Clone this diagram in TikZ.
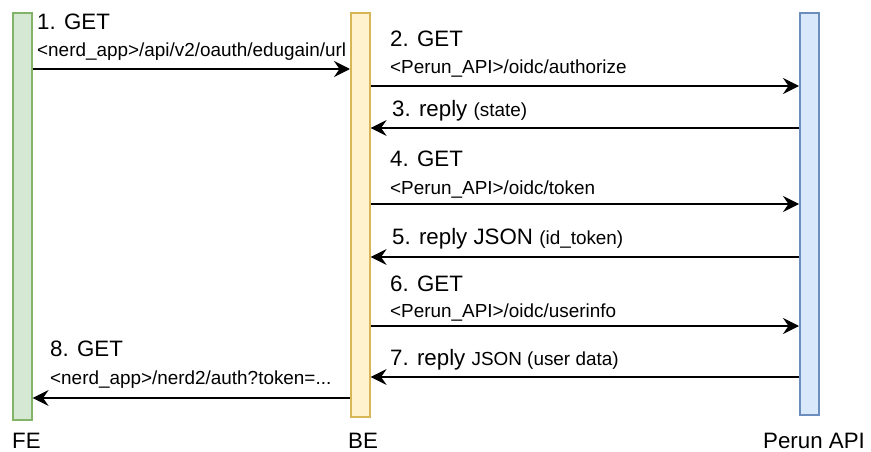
\documentclass[tikz,border=0pt]{standalone}
\usepackage{fontspec}
\setmainfont{Liberation Sans}
\usetikzlibrary{arrows.meta}
\definecolor{feFill}{HTML}{D5E8D4}\definecolor{feLine}{HTML}{82B366}
\definecolor{beFill}{HTML}{FFF2CC}\definecolor{beLine}{HTML}{D6B656}
\definecolor{apiFill}{HTML}{DAE8FC}\definecolor{apiLine}{HTML}{6C8EBF}
\newcommand{\bigtxt}{\fontsize{22.3}{26}\selectfont}
\newcommand{\smalltxt}{\fontsize{18.9}{22}\selectfont}
\begin{document}
\begin{tikzpicture}[x=1pt,y=-1pt,
  lifeline/.style={rectangle, line width=1.6pt, minimum width=19pt, inner sep=0pt, anchor=north west},
  msg/.style={line width=1.9pt, -{Stealth[length=16pt,width=16pt,inset=5.5pt]}},
  lbl/.style={anchor=base west, inner sep=0pt},
  actor/.style={anchor=base west, inner sep=0pt, font=\bigtxt}]
\useasboundingbox (0,0) rectangle (871,452);
% lifelines
\node[lifeline, fill=feFill, draw=feLine, minimum height=407pt] (fe) at (12,12) {};
\node[lifeline, fill=beFill, draw=beLine, minimum height=404pt] (be) at (350,12) {};
\node[lifeline, fill=apiFill, draw=apiLine, minimum height=402pt] (api) at (799,12) {};
% actor names
\node[actor] (feName) at (12,448) {FE};
\node[actor] (beName) at (348,448) {BE};
\node[actor] (apiName) at (763,448) {Perun API};
% 1
\node[lbl, font=\bigtxt] (l1a) at (37,30) {1. GET};
\node[lbl, font=\smalltxt] (l1b) at (37,57) {<nerd\_app>/api/v2/oauth/edugain/url};
\draw[msg] (fe.east |- 0,69) -- (be.west |- 0,69);
% 2
\node[lbl, font=\bigtxt] (l2a) at (390,47) {2. GET};
\node[lbl, font=\smalltxt] (l2b) at (390,74) {<Perun\_API>/oidc/authorize};
\draw[msg] (be.east |- 0,86) -- (api.west |- 0,86);
% 3
\node[lbl] (l3) at (392,117) {\bigtxt 3. reply \smalltxt(state)};
\draw[msg] (api.west |- 0,128) -- (be.east |- 0,128);
% 4
\node[lbl, font=\bigtxt] (l4a) at (390,166) {4. GET};
\node[lbl, font=\smalltxt] (l4b) at (390,194) {<Perun\_API>/oidc/token};
\draw[msg] (be.east |- 0,204) -- (api.west |- 0,204);
% 5
\node[lbl] (l5) at (392,244) {\bigtxt 5. reply JSON \smalltxt(id\_token)};
\draw[msg] (api.west |- 0,257) -- (be.east |- 0,257);
% 6
\node[lbl, font=\bigtxt] (l6a) at (390,291) {6. GET};
\node[lbl, font=\smalltxt] (l6b) at (390,317) {<Perun\_API>/oidc/userinfo};
\draw[msg] (be.east |- 0,326) -- (api.west |- 0,326);
% 7
\node[lbl] (l7) at (390,365) {\bigtxt 7. reply \smalltxt JSON (user data)};
\draw[msg] (api.west |- 0,377) -- (be.east |- 0,377);
% 8
\node[lbl, font=\bigtxt] (l8a) at (50,356) {8. GET};
\node[lbl, font=\smalltxt] (l8b) at (50,384) {<nerd\_app>/nerd2/auth?token=...};
\draw[msg] (be.west |- 0,398) -- (fe.east |- 0,398);
\end{tikzpicture}
\end{document}
